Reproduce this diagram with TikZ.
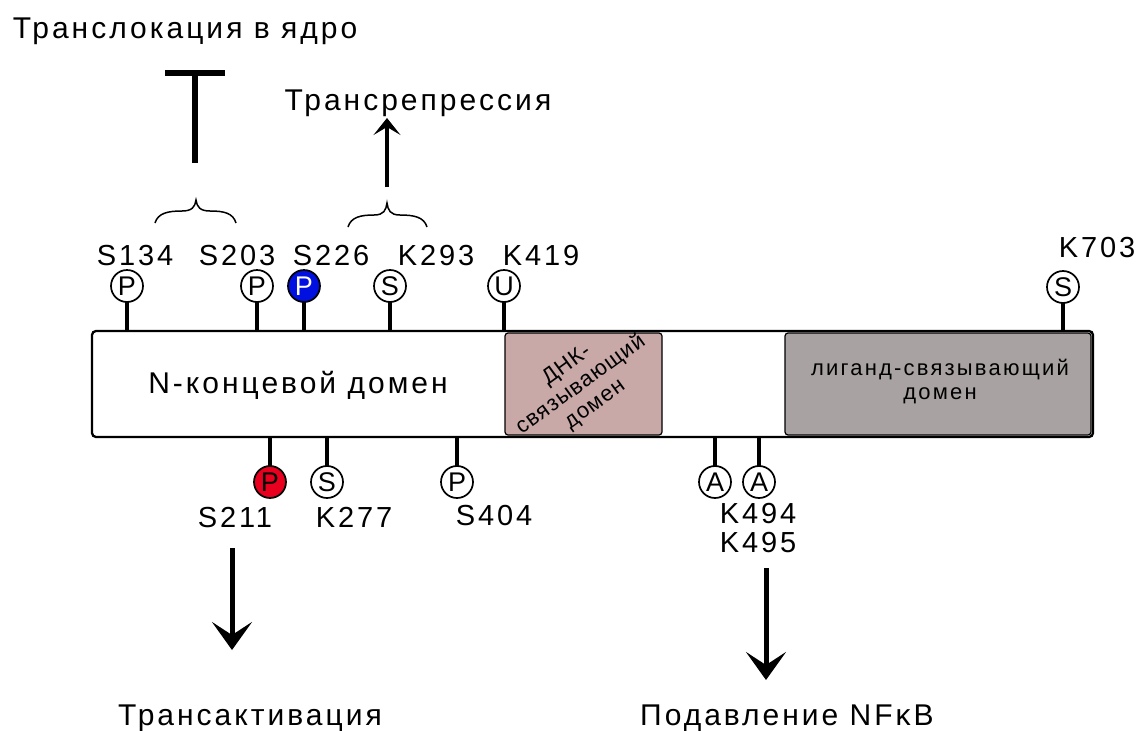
\documentclass[tikz,border=0pt]{standalone}
\usepackage{fontspec}
\setmainfont{Liberation Sans}[LetterSpace=10]
\newfontfamily\plainsf{Liberation Sans}
\newfontfamily\dnafont{Liberation Sans}[LetterSpace=5]
\usetikzlibrary{arrows.meta}
\definecolor{dbdfill}{RGB}{201,168,168}
\definecolor{lbdfill}{RGB}{168,162,162}
\definecolor{pblue}{RGB}{0,16,224}
\definecolor{pred}{RGB}{232,0,30}
\begin{document}
\begin{tikzpicture}[x=1pt,y=-1pt,
  every node/.style={inner sep=0pt, outer sep=0pt},
  big/.style={font=\fontsize{30}{32}\selectfont, anchor=base},
  site/.style={font=\fontsize{29}{31}\selectfont, anchor=base},
  mod/.style={circle, draw, line width=1.7pt, minimum size=32pt, inner sep=0pt,
              font=\plainsf\fontsize{27}{27}\selectfont, fill=white},
  pinline/.style={line width=4pt},
  barbox/.style={draw, line width=2.3pt, rounded corners=4pt, minimum width=1001pt, minimum height=106pt},
  dom/.style={draw, line width=1.2pt, rounded corners=3pt, minimum height=102pt},
  bracepath/.style={line width=1.5pt},
  bigarrow/.style={line width=5pt, -{Stealth[length=28pt, width=40pt, inset=13pt]}},
  smallarrow/.style={line width=3.5pt, -{Stealth[length=17pt, width=27pt, inset=8pt]}},
  tbar/.style={line width=6pt}
]
\useasboundingbox (0,0) rectangle (1141,731);

% titles
\node[big] (tl) at (185,38) {Транслокация в ядро};
\node[big] (tr) at (418,110) {Трансрепрессия};
\node[big] (ta) at (250,725) {Трансактивация};
\node[big] (nf) at (787,725) {Подавление NFκB};

% bar and domains
\node[dom, fill=dbdfill, minimum width=157pt] (dbd) at (583.5,384) {};
\node[dom, fill=lbdfill, minimum width=306pt] (lbd) at (938,384) {};
\node[barbox] (bar) at (592.5,384) {};
\node[big] (ntd) at (298,393) {N-концевой домен};
\node[font=\dnafont\fontsize{22}{24}\selectfont, align=center, rotate=36] (dbdtxt) at (581,385) {ДНК-\\связывающий\\домен};
\node[font=\fontsize{22}{24}\selectfont, align=center] (lbdtxt) at (940,382) {лиганд-связывающий\\домен};

% top modification sites
\node[mod] (p134) at (127,286) {P};
\node[mod] (p203) at (257,286) {P};
\node[mod, fill=pblue, text=white] (p226) at (304,286) {P};
\node[mod] (s293) at (390,286) {S};
\node[mod] (u419) at (504,286) {U};
\node[mod] (s703) at (1063,287) {S};
\foreach \n in {p134,p203,p226,s293,u419,s703}
  \draw[pinline] (\n.south) -- (\n |- bar.north);

\node[site] (l134) at (135,265) {S134};
\node[site] (l203) at (237,265) {S203};
\node[site] (l226) at (331,265) {S226};
\node[site] (l293) at (436,265) {K293};
\node[site] (l419) at (541,265) {K419};
\node[site] (l703) at (1097,257) {K703};

% bottom modification sites
\node[mod, fill=pred] (p211) at (270,482) {P};
\node[mod] (s277) at (327,482) {S};
\node[mod] (p404) at (457,482) {P};
\node[mod] (a494) at (715,482) {A};
\node[mod] (a495) at (759,482) {A};
\foreach \n in {p211,s277,p404,a494,a495}
  \draw[pinline] (\n.north) -- (\n |- bar.south);

\node[site] (l211) at (235,527) {S211};
\node[site] (l277) at (354,527) {K277};
\node[site] (l404) at (494,525) {S404};
\node[site] (l494) at (758,523) {K494};
\node[site] (l495) at (758,552) {K495};

% braces
\coordinate (b1l) at (155,223);
\coordinate (b1t) at (196,200);
\coordinate (b1r) at (236,223);
\draw[bracepath] (b1l) .. controls (158,213) and (168,211) .. (182,211)
  .. controls (192,211) and (195,207) .. (b1t)
  .. controls (197,207) and (200,211) .. (210,211)
  .. controls (224,211) and (233,213) .. (b1r);
\coordinate (b2l) at (348,227);
\coordinate (b2t) at (387,203);
\coordinate (b2r) at (427,227);
\draw[bracepath] (b2l) .. controls (351,217) and (361,215) .. (374,215)
  .. controls (384,215) and (386,210) .. (b2t)
  .. controls (388,210) and (390,215) .. (400,215)
  .. controls (414,215) and (424,217) .. (b2r);

% T-bar (inhibition)
\coordinate (tbl) at (165,73);
\coordinate (tbr) at (225,73);
\coordinate (tbtop) at (195,73);
\coordinate (tbbot) at (195,163);
\draw[tbar] (tbl) -- (tbr);
\draw[tbar] (tbtop) -- (tbbot);

% arrows
\coordinate (ua1) at (387,187);
\coordinate (ua2) at (387,118);
\draw[smallarrow] (ua1) -- (ua2);
\coordinate (da1) at (232,548);
\coordinate (da2) at (232,650);
\draw[bigarrow] (da1) -- (da2);
\coordinate (db1) at (766,568);
\coordinate (db2) at (766,680);
\draw[bigarrow] (db1) -- (db2);
\end{tikzpicture}
\end{document}
